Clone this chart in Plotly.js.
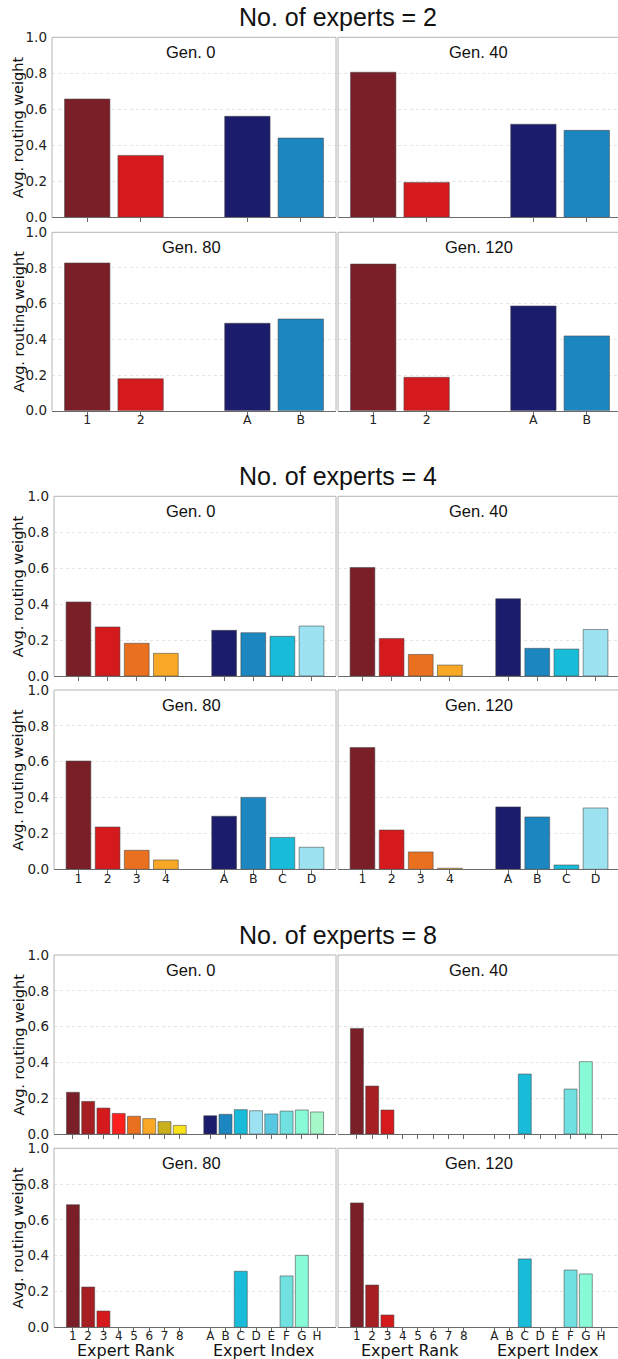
<!DOCTYPE html>
<html>
<head>
<meta charset="utf-8">
<script src="https://cdn.plot.ly/plotly-3.0.1.min.js"></script>
<style>html,body{margin:0;padding:0;background:#fff;}#chart{width:618px;height:1359px;}</style>
</head>
<body>
<div id="chart"></div>
<script>
// ---------------- data ----------------
const generations = ['Gen. 0', 'Gen. 40', 'Gen. 80', 'Gen. 120'];
const expertCounts = [2, 4, 8];
const rankLabels = ['1', '2', '3', '4', '5', '6', '7', '8'];
const indexLabels = ['A', 'B', 'C', 'D', 'E', 'F', 'G', 'H'];

// values per generation (Gen. 0, 40, 80, 120)
const e2Rank = [[0.657, 0.344], [0.806, 0.194], [0.828, 0.179], [0.822, 0.187]];
const e2Index = [[0.561, 0.440], [0.517, 0.483], [0.490, 0.514], [0.587, 0.419]];
const e4Rank = [[0.412, 0.273, 0.182, 0.126], [0.604, 0.209, 0.120, 0.061], [0.604, 0.236, 0.106, 0.052], [0.679, 0.219, 0.097, 0.006]];
const e4Index = [[0.254, 0.241, 0.221, 0.278], [0.430, 0.154, 0.150, 0.259], [0.296, 0.401, 0.178, 0.123], [0.348, 0.292, 0.024, 0.342]];
const e8Rank = [[0.233, 0.182, 0.145, 0.115, 0.099, 0.086, 0.069, 0.048], [0.590, 0.268, 0.134, 0, 0, 0, 0, 0], [0.685, 0.225, 0.091, 0, 0, 0, 0, 0], [0.695, 0.236, 0.069, 0, 0, 0, 0, 0]];
const e8Index = [[0.102, 0.110, 0.136, 0.130, 0.112, 0.128, 0.134, 0.123], [0, 0, 0.335, 0, 0, 0.251, 0.404, 0], [0, 0, 0.313, 0, 0, 0.287, 0.402, 0], [0, 0, 0.382, 0, 0, 0.320, 0.298, 0]];

const rankData = [e2Rank, e4Rank, e8Rank];
const indexData = [e2Index, e4Index, e8Index];

// colours
const rankColors = {
  2: ['#7a1f28', '#d41a1c'],
  4: ['#7a1f28', '#d41a1c', '#e8701e', '#f8a824'],
  8: ['#7a1f28', '#a51e22', '#d41a1c', '#ff1f1f', '#e8701e', '#f8a824', '#c8b01c', '#f8e21c']
};
const indexColors = {
  2: ['#1c1c6c', '#1c86c0'],
  4: ['#1c1c6c', '#1c86c0', '#18bcd8', '#9ce2f0'],
  8: ['#1c1c6c', '#1c86c0', '#18bcd8', '#9ce2f0', '#58c8e2', '#70e0e0', '#88fad8', '#a6f8ca']
};

// ---------------- layout geometry (pixels) ----------------
const W = 618, H = 1359;
const rowsPx = [
  [[37.3, 217.3], [232.3, 410.7]],
  [[496.3, 676.0], [690.0, 869.3]],
  [[955.0, 1134.0], [1148.3, 1327.3]]
];
const leftPx = [52, 54, 54];
const rightStart = 338, rightEnd = 618, leftEnd = 336;
const xRanges = {2: [-0.66, 4.66], 4: [-0.84, 8.84], 8: [-1.24, 17.24]};
const titleY = [17, 476, 935];

const px = v => v / W;
const py = v => 1 - v / H;

const data = [];
const layout = {
  width: W, height: H,
  margin: {l: 0, r: 0, t: 0, b: 0},
  paper_bgcolor: '#ffffff', plot_bgcolor: '#ffffff',
  showlegend: false,
  annotations: [], shapes: []
};

const frameColor = '#b4b4b4';
const tickFont = {family: 'DejaVu Sans', size: 13.5, color: '#222'};

let k = 0;
expertCounts.forEach((n, s) => {
  // section title
  layout.annotations.push({
    text: 'No. of experts = ' + n, xref: 'paper', yref: 'paper',
    x: px(337.5), y: py(titleY[s]), xanchor: 'center', yanchor: 'middle',
    showarrow: false, font: {family: 'Liberation Sans', size: 25, color: '#111'}
  });
  const rLab = rankLabels.slice(0, n), iLab = indexLabels.slice(0, n);
  const positions = [];
  for (let i = 0; i < n; i++) positions.push(i);
  for (let i = 0; i < n; i++) positions.push(n + 1 + i);
  const labels = rLab.concat(iLab);
  const colors = rankColors[n].concat(indexColors[n]);

  generations.forEach((gen, g) => {
    k++;
    const row = Math.floor(g / 2), col = g % 2;
    const [topPx, botPx] = rowsPx[s][row];
    const x0 = col === 0 ? leftPx[s] : rightStart;
    const x1 = col === 0 ? leftEnd : rightEnd;
    const [r0, r1] = xRanges[n];
    const pxPerUnit = (leftEnd - leftPx[s]) / (r1 - r0);
    const range = col === 0 ? [r0, r1] : [r0, r0 + (x1 - x0) / pxPerUnit];
    const xa = 'xaxis' + (k === 1 ? '' : k), ya = 'yaxis' + (k === 1 ? '' : k);
    const xr = 'x' + (k === 1 ? '' : k), yr = 'y' + (k === 1 ? '' : k);
    const bottomRow = row === 1;
    const vals = rankData[s][g].concat(indexData[s][g]);

    data.push({
      type: 'bar', xaxis: xr, yaxis: yr,
      x: positions, y: vals,
      width: 0.85,
      marker: {color: colors, line: {color: 'rgba(70,70,70,0.55)', width: vals.map(v => v > 0 ? 1 : 0)}},
      hoverinfo: 'skip'
    });

    layout[xa] = {
      domain: [px(x0), Math.min(1, px(x1))], anchor: yr,
      range: range, showgrid: false, zeroline: false,
      showline: true, linecolor: '#6a6a6a', linewidth: 1,
      ticks: 'outside', ticklen: 3.5, tickcolor: '#6a6a6a', tickwidth: 1,
      tickvals: positions, ticktext: labels,
      showticklabels: bottomRow, ticklabelstandoff: -6,
      tickfont: {family: 'DejaVu Sans', size: n === 8 ? 12 : 12.5, color: '#222'},
      fixedrange: true
    };
    layout[ya] = {
      domain: [py(botPx), py(topPx)], anchor: xr,
      range: [0, 1], zeroline: false,
      showgrid: true, gridcolor: '#e4e4e4', griddash: 'dot', gridwidth: 1,
      showline: false, ticks: '',
      tickvals: [0, 0.2, 0.4, 0.6, 0.8, 1.0],
      ticktext: ['0.0', '0.2', '0.4', '0.6', '0.8', '1.0'],
      showticklabels: col === 0, ticklabelstandoff: 4,
      tickfont: tickFont, fixedrange: true
    };

    // frame lines (left, top, right)
    const lineStyle = {color: frameColor, width: 1};
    layout.shapes.push({type: 'line', xref: 'paper', yref: 'paper', x0: px(x0), x1: px(x0), y0: py(botPx), y1: py(topPx), line: lineStyle});
    layout.shapes.push({type: 'line', xref: 'paper', yref: 'paper', x0: px(x0), x1: Math.min(1, px(x1)), y0: py(topPx), y1: py(topPx), line: lineStyle});
    if (col === 0) {
      layout.shapes.push({type: 'line', xref: 'paper', yref: 'paper', x0: px(x1), x1: px(x1), y0: py(botPx), y1: py(topPx), line: lineStyle});
    }

    // generation label
    layout.annotations.push({
      text: gen, xref: 'paper', yref: 'paper',
      x: px(col === 0 ? 191 : 479), y: py(topPx + 14.5), xanchor: 'center', yanchor: 'middle',
      showarrow: false, font: {family: 'Liberation Sans', size: 16.5, color: '#111'}
    });

    // y-axis title on left panels
    if (col === 0) {
      layout.annotations.push({
        text: 'Avg. routing weight', xref: 'paper', yref: 'paper',
        x: px(18), y: py((topPx + botPx) / 2), xanchor: 'center', yanchor: 'middle',
        textangle: -90, showarrow: false,
        font: {family: 'DejaVu Sans', size: 14.5, color: '#111'}
      });
    }

    // group labels under the last section
    if (s === 2 && bottomRow) {
      layout.annotations.push({
        text: 'Expert Rank', xref: xr, yref: 'paper',
        x: (n - 1) / 2, y: py(1350.5), xanchor: 'center', yanchor: 'middle',
        showarrow: false, font: {family: 'DejaVu Sans', size: 16, color: '#111'}
      });
      layout.annotations.push({
        text: 'Expert Index', xref: xr, yref: 'paper',
        x: n + 1 + (n - 1) / 2, y: py(1350.5), xanchor: 'center', yanchor: 'middle',
        showarrow: false, font: {family: 'DejaVu Sans', size: 16, color: '#111'}
      });
    }
  });
});

Plotly.newPlot('chart', data, layout, {displayModeBar: false, staticPlot: true});
</script>
</body>
</html>
